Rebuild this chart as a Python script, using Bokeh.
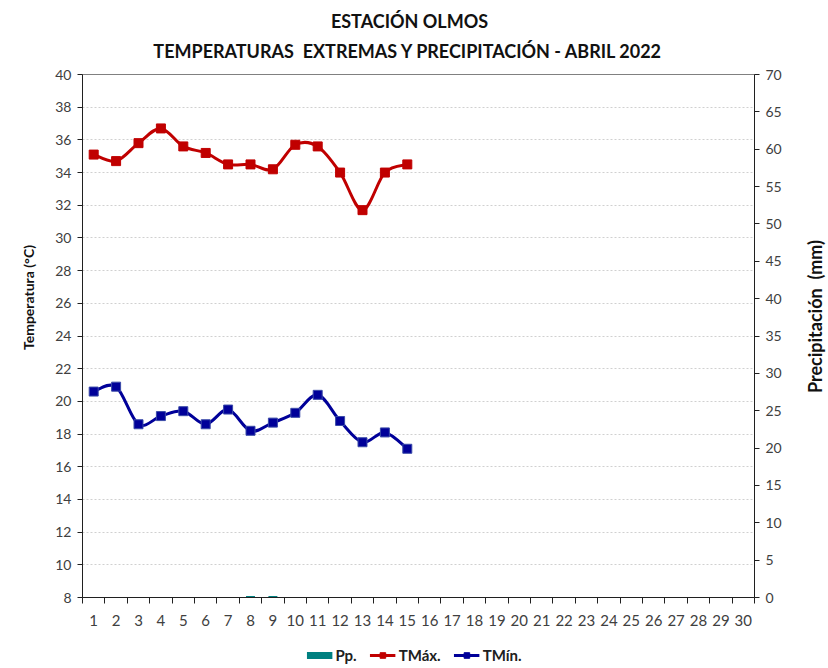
import numpy as np
from bokeh.plotting import figure
from bokeh.layouts import column, row
from bokeh.models import (LinearAxis, Range1d, FixedTicker, Label, Legend,
                          LegendItem, ColumnDataSource)
from bokeh.embed import file_html
from bokeh.resources import INLINE

# ---- data ----
days = list(range(1, 31))
obs_days = list(range(1, 16))
tmax = [35.1, 34.7, 35.8, 36.7, 35.6, 35.2, 34.5, 34.5, 34.2, 35.7, 35.6, 34.0, 31.7, 34.0, 34.5]
tmin = [20.6, 20.9, 18.6, 19.1, 19.4, 18.6, 19.5, 18.2, 18.7, 19.3, 20.4, 18.8, 17.5, 18.1, 17.1]
pp = [0, 0, 0, 0, 0, 0, 0, 0.2, 0.2, 0, 0, 0, 0, 0, 0]
temp_ticks = list(range(8, 42, 2))
pp_ticks = list(range(0, 75, 5))

title1 = "ESTACIÓN OLMOS"
title2 = "TEMPERATURAS\u00a0\u00a0EXTREMAS Y PRECIPITACIÓN - ABRIL 2022"
ylabel = "Temperatura (°C)"
y2label = "Precipitación\u00a0\u00a0(mm)"
legend_labels = ["Pp.", "TMáx.", "TMín."]

FONT = "Lato"
RED = "#C00000"
BLUE = "#000099"
TEAL = "#008080"
TXT = "#404040"
DARK = "#111111"


def strip(w, h):
    f = figure(width=w, height=h, output_backend="svg", toolbar_location=None,
               x_range=Range1d(0, 1), y_range=Range1d(0, 1),
               x_axis_location=None, y_axis_location=None, min_border=0)
    f.title = None
    f.outline_line_color = None
    f.grid.visible = False
    f.background_fill_color = "white"
    f.border_fill_color = "white"
    return f


# ---- main chart ----
p = figure(width=762, height=578, output_backend="svg", toolbar_location=None,
           x_range=Range1d(0.5, 30.5), y_range=Range1d(8, 40),
           min_border_left=40, min_border_right=50, min_border_top=10,
           min_border_bottom=45)
p.title = None
p.extra_y_ranges = {"pp": Range1d(0, 70)}
p.outline_line_color = "#808080"
p.background_fill_color = "white"
p.border_fill_color = "white"

p.xgrid.visible = False
p.ygrid.ticker = FixedTicker(ticks=temp_ticks)
p.ygrid.grid_line_color = "#d0d0d0"
p.ygrid.grid_line_dash = "2 2"

xa = p.xaxis[0]
xa.ticker = FixedTicker(ticks=days, minor_ticks=[d + 0.5 for d in range(0, 31)])
xa.major_tick_line_color = None
xa.minor_tick_in = 0
xa.minor_tick_out = 6
xa.minor_tick_line_color = "#202020"
xa.axis_line_color = "#202020"
xa.major_label_text_font = FONT
xa.major_label_text_font_size = "15px"
xa.major_label_text_color = TXT
xa.major_label_standoff = 11

ya = p.yaxis[0]
ya.ticker = FixedTicker(ticks=temp_ticks)
ya.major_tick_in = 0
ya.major_tick_out = 5
ya.minor_tick_line_color = None
ya.axis_line_color = "#202020"
ya.major_tick_line_color = "#202020"
ya.major_label_text_font = FONT
ya.major_label_text_font_size = "14px"
ya.major_label_text_color = TXT
ya.major_label_standoff = 6

ra = LinearAxis(y_range_name="pp", ticker=FixedTicker(ticks=pp_ticks))
ra.major_tick_in = 0
ra.major_tick_out = 5
ra.minor_tick_line_color = None
ra.axis_line_color = "#202020"
ra.major_tick_line_color = "#202020"
ra.major_label_text_font = FONT
ra.major_label_text_font_size = "14px"
ra.major_label_text_color = TXT
ra.major_label_standoff = 6
p.add_layout(ra, "right")

p.vbar(x=obs_days, top=pp, bottom=0, width=0.4, y_range_name="pp",
       fill_color=TEAL, line_color=None)


def smooth(xs, ys):
    x = np.array(xs, dtype=float)
    y = np.array(ys, dtype=float)
    x0, y0, x1, y1 = x[:-1], y[:-1], x[1:], y[1:]
    xp = np.concatenate([[x[0]], x[:-2]])
    yp = np.concatenate([[y[0]], y[:-2]])
    xn = np.concatenate([x[2:], [x[-1]]])
    yn = np.concatenate([y[2:], [y[-1]]])
    cx0 = x0 + (x1 - xp) / 6.0
    cy0 = y0 + (y1 - yp) / 6.0
    cx1 = x1 - (xn - x0) / 6.0
    cy1 = y1 - (yn - y0) / 6.0
    return dict(x0=x0, y0=y0, x1=x1, y1=y1, cx0=cx0, cy0=cy0, cx1=cx1, cy1=cy1)


p.bezier(source=ColumnDataSource(smooth(obs_days, tmax)), x0="x0", y0="y0",
         x1="x1", y1="y1", cx0="cx0", cy0="cy0", cx1="cx1", cy1="cy1",
         line_color=RED, line_width=3)
p.scatter(obs_days, tmax, marker="square", size=9, fill_color=RED,
          line_color=RED, line_width=1)
p.bezier(source=ColumnDataSource(smooth(obs_days, tmin)), x0="x0", y0="y0",
         x1="x1", y1="y1", cx0="cx0", cy0="cy0", cx1="cx1", cy1="cy1",
         line_color=BLUE, line_width=3)
p.scatter(obs_days, tmin, marker="square", size=9, fill_color=BLUE,
          line_color="#3a4aa8", line_width=1)

# ---- title strip ----
top = strip(828, 64)
top.add_layout(Label(x=409, y=44, x_units="screen", y_units="screen", text=title1,
                     text_font=FONT, text_font_style="bold", text_font_size="18px",
                     text_color=DARK, text_align="center", text_baseline="middle"))
top.add_layout(Label(x=408, y=14, x_units="screen", y_units="screen", text=title2,
                     text_font=FONT, text_font_style="bold", text_font_size="18px",
                     text_color=DARK, text_align="center", text_baseline="middle"))

# ---- side strips with axis titles ----
left = strip(42, 578)
left.add_layout(Label(x=28, y=300, x_units="screen", y_units="screen", text=ylabel,
                      angle=np.pi / 2, text_font=FONT, text_font_style="bold",
                      text_font_size="14px", text_color=DARK,
                      text_align="center", text_baseline="middle"))
right = strip(24, 578)
right.add_layout(Label(x=10, y=281, x_units="screen", y_units="screen", text=y2label,
                       angle=np.pi / 2, text_font=FONT, text_font_style="bold",
                       text_font_size="18px", text_color=DARK,
                       text_align="center", text_baseline="middle"))

# ---- legend strip ----
lg = figure(width=828, height=26, output_backend="svg", toolbar_location=None,
            x_range=Range1d(100, 101), y_range=Range1d(100, 101),
            x_axis_location=None, y_axis_location=None, min_border=0)
lg.title = None
lg.outline_line_color = None
lg.grid.visible = False
r_pp = lg.line(x=obs_days, y=pp, line_color=TEAL, line_width=7, line_cap="butt")
r_max_l = lg.line(x=obs_days, y=tmax, line_color=RED, line_width=3)
r_max_m = lg.scatter(x=obs_days, y=tmax, marker="square", size=8, fill_color=RED, line_color=RED)
r_min_l = lg.line(x=obs_days, y=tmin, line_color=BLUE, line_width=3)
r_min_m = lg.scatter(x=obs_days, y=tmin, marker="square", size=8, fill_color=BLUE, line_color=BLUE)

legend = Legend(items=[
    LegendItem(label=legend_labels[0], renderers=[r_pp]),
    LegendItem(label=legend_labels[1], renderers=[r_max_l, r_max_m]),
    LegendItem(label=legend_labels[2], renderers=[r_min_l, r_min_m]),
], orientation="horizontal", location="center")
legend.label_text_font = FONT
legend.label_text_font_style = "bold"
legend.label_text_font_size = "15px"
legend.label_text_color = "#202020"
legend.glyph_width = 26
legend.glyph_height = 14
legend.label_standoff = 3
legend.spacing = 13
legend.padding = 2
legend.margin = 0
legend.border_line_color = None
legend.background_fill_alpha = 0
lg.add_layout(legend, "center")

layout = column(top, row(left, p, right, spacing=0), lg, spacing=0)
open("out.html", "w").write(file_html(layout, INLINE))
